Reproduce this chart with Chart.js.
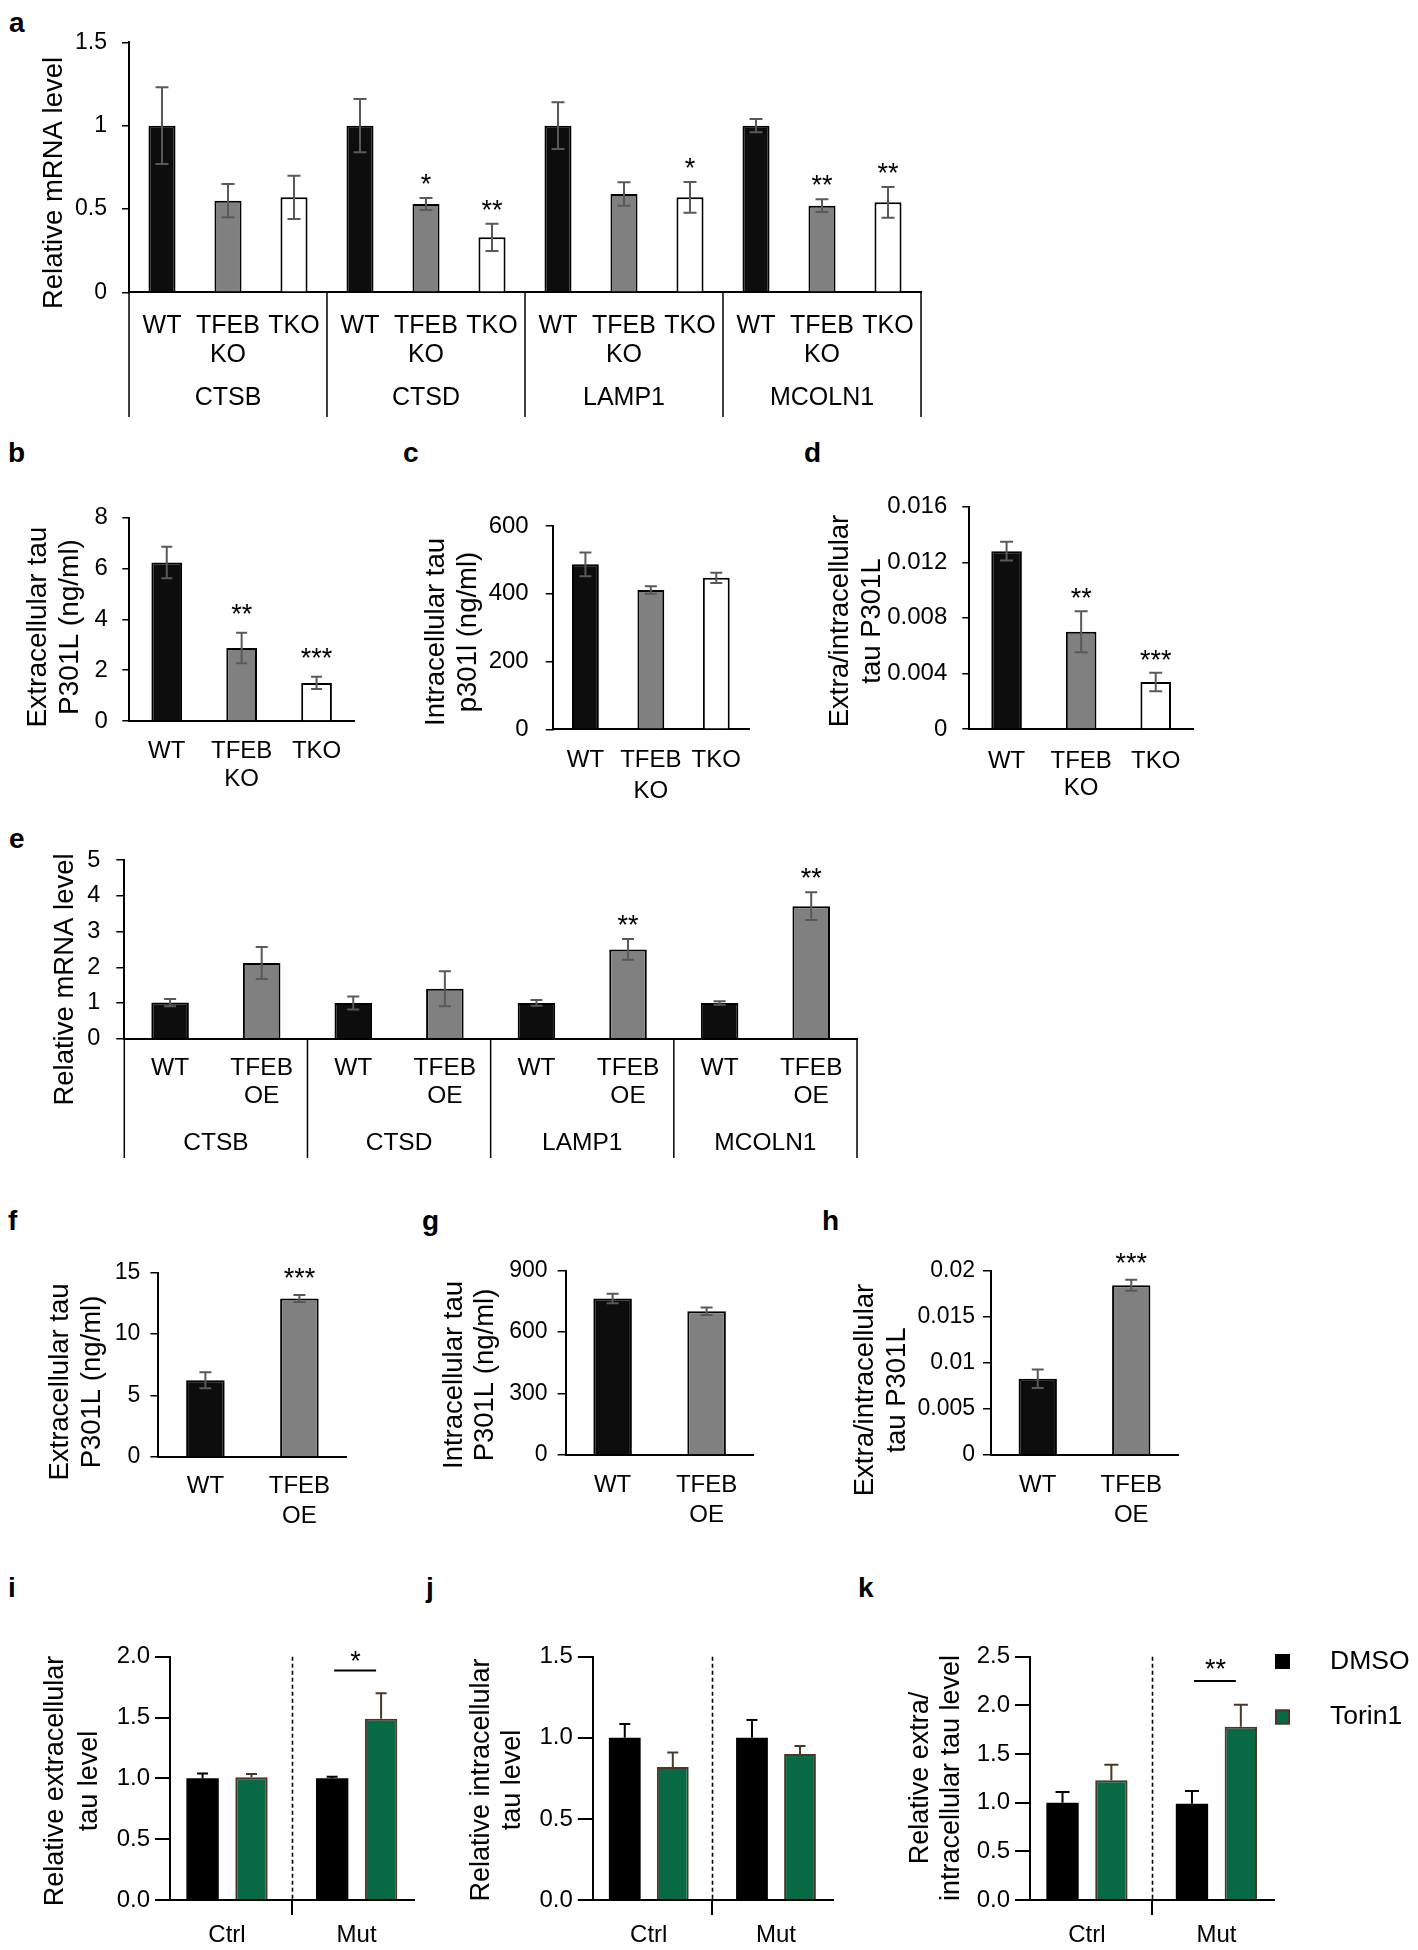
<!DOCTYPE html>
<html><head><meta charset="utf-8">
<script src="https://cdn.jsdelivr.net/npm/chart.js@4.4.1/dist/chart.umd.min.js"></script>
<style>
html,body{margin:0;padding:0;background:#fff;}
body{width:1418px;height:1950px;position:relative;overflow:hidden;}
.panel{position:absolute;}
.letter{position:absolute;font:bold 28px "Liberation Sans",Arial,sans-serif;line-height:1;color:#000;}
</style></head><body>
<div class="letter" style="left:9px;top:9px">a</div>
<div class="letter" style="left:8px;top:439px">b</div>
<div class="letter" style="left:403px;top:439px">c</div>
<div class="letter" style="left:804px;top:439px">d</div>
<div class="letter" style="left:9px;top:825px">e</div>
<div class="letter" style="left:8px;top:1207px">f</div>
<div class="letter" style="left:422px;top:1207px">g</div>
<div class="letter" style="left:822px;top:1207px">h</div>
<div class="letter" style="left:8px;top:1574px">i</div>
<div class="letter" style="left:426px;top:1574px">j</div>
<div class="letter" style="left:858px;top:1574px">k</div>
<script>
// ---------------- DATA ----------------
// Panel a
const aGenes = ['CTSB', 'CTSD', 'LAMP1', 'MCOLN1'];
const aConditions = ['WT', ['TFEB', 'KO'], 'TKO'];
const aValues = [1.00, 0.55, 0.57, 1.00, 0.53, 0.33, 1.00, 0.59, 0.57, 1.00, 0.52, 0.54];
const aErrors = [0.23, 0.10, 0.13, 0.16, 0.036, 0.082, 0.14, 0.071, 0.092, 0.04, 0.038, 0.092];
const aStars  = ['', '', '', '', '*', '**', '', '', '*', '', '**', '**'];
// Panels b, c, d
const bcdConditions = ['WT', ['TFEB', 'KO'], 'TKO'];
const bValues = [6.24, 2.87, 1.50];
const bErrors = [0.62, 0.60, 0.24];
const bStars  = ['', '**', '***'];
const cValues = [487, 411, 447];
const cErrors = [35, 11, 15];
const dValues = [0.0128, 0.0070, 0.00338];
const dErrors = [0.00068, 0.00147, 0.00067];
const dStars  = ['', '**', '***'];
// Panel e
const eGenes = ['CTSB', 'CTSD', 'LAMP1', 'MCOLN1'];
const eConditions = ['WT', ['TFEB', 'OE']];
const eValues = [1.01, 2.12, 1.00, 1.40, 1.00, 2.50, 1.00, 3.71];
const eErrors = [0.10, 0.45, 0.18, 0.49, 0.08, 0.29, 0.05, 0.39];
const eStars  = ['', '', '', '', '', '**', '', '**'];
// Panels f, g, h
const fghConditions = ['WT', ['TFEB', 'OE']];
const fValues = [6.23, 12.9];
const fErrors = [0.65, 0.28];
const fStars  = ['', '***'];
const gValues = [764, 702];
const gErrors = [23, 18];
const hValues = [0.00829, 0.01845];
const hErrors = [0.0010, 0.0006];
const hStars  = ['', '***'];
// Panels i, j, k
const ijkGroups = ['Ctrl', 'Mut'];
const ijkSeries = ['DMSO', 'Torin1'];
const iDMSO = [1.00, 1.00], iDMSOErr = [0.04, 0.014];
const iTorin = [1.01, 1.49], iTorinErr = [0.026, 0.21];
const jDMSO = [1.00, 1.00], jDMSOErr = [0.085, 0.11];
const jTorin = [0.82, 0.90], jTorinErr = [0.09, 0.05];
const kDMSO = [1.00, 0.99], kDMSOErr = [0.11, 0.13];
const kTorin = [1.23, 1.78], kTorinErr = [0.16, 0.225];
const iSig = '*', kSig = '**';

// ---------------- STYLE / HELPERS ----------------
const FONT = '"Liberation Sans", Arial, sans-serif';
Chart.defaults.font.family = FONT;
Chart.defaults.color = '#000';
const fmt = v => String(parseFloat(Number(v).toPrecision(8)));
const fmt1 = v => Number(v).toFixed(1);
const yOf = d => (d !== null && typeof d === 'object') ? d.y : d;
const triColors = ['#0d0d0d', '#808080', '#ffffff'];
const duoColors = ['#0d0d0d', '#808080'];
const GREEN = '#076a45', BROWN = '#4a3826';

const errPlugin = { id: 'errbars', afterDatasetsDraw(chart, args, o) {
  const ys = chart.scales.y, ctx = chart.ctx;
  chart.data.datasets.forEach((ds, di) => {
    if (!ds.errors) return;
    const meta = chart.getDatasetMeta(di);
    meta.data.forEach((el, i) => {
      const v = yOf(ds.data[i]), e = ds.errors[i];
      if (!e) return;
      const top = ys.getPixelForValue(v + e);
      const bot = o.oneSided ? ys.getPixelForValue(v) : ys.getPixelForValue(v - e);
      const c = (o.cap || 12) / 2;
      ctx.save();
      ctx.strokeStyle = ds.errorColor || o.color || '#595959';
      ctx.lineWidth = o.width || 2;
      ctx.beginPath();
      ctx.moveTo(el.x, top); ctx.lineTo(el.x, bot);
      ctx.moveTo(el.x - c, top); ctx.lineTo(el.x + c, top);
      if (!o.oneSided) { ctx.moveTo(el.x - c, bot); ctx.lineTo(el.x + c, bot); }
      ctx.stroke();
      ctx.restore();
    });
  });
}};

const starPlugin = { id: 'stars', afterDatasetsDraw(chart, args, o) {
  const ys = chart.scales.y, ctx = chart.ctx;
  chart.data.datasets.forEach((ds, di) => {
    if (!ds.stars) return;
    const meta = chart.getDatasetMeta(di);
    meta.data.forEach((el, i) => {
      const s = ds.stars[i]; if (!s) return;
      const v = yOf(ds.data[i]) + (ds.errors ? ds.errors[i] : 0);
      ctx.save();
      ctx.font = (o.size || 26) + 'px ' + FONT;
      ctx.textAlign = 'center'; ctx.textBaseline = 'alphabetic'; ctx.fillStyle = '#000';
      ctx.fillText(s, el.x, ys.getPixelForValue(v) - (o.gap || 5));
      ctx.restore();
    });
  });
}};

const titlePlugin = { id: 'ytitle', afterDraw(chart, args, o) {
  if (!o.lines) return;
  const ctx = chart.ctx;
  ctx.save();
  ctx.font = (o.size || 27) + 'px ' + FONT;
  ctx.fillStyle = '#000'; ctx.textAlign = 'center'; ctx.textBaseline = 'alphabetic';
  o.lines.forEach((t, i) => {
    ctx.save();
    ctx.translate(o.x[i] - o.ox, o.cy - o.oy);
    ctx.rotate(-Math.PI / 2);
    ctx.fillText(t, 0, 0);
    ctx.restore();
  });
  ctx.restore();
}};

const groupPlugin = { id: 'groups', afterDraw(chart, args, o) {
  if (!o.names) return;
  const xs = chart.scales.x, ctx = chart.ctx;
  const n = o.names.length, per = xs.getLabels().length / n;
  const bottom = o.lineBottom - o.oy;
  const edges = [];
  ctx.save();
  ctx.strokeStyle = '#000'; ctx.lineWidth = o.lineWidth || 1.5;
  for (let g = 0; g <= n; g++) {
    let x;
    if (g === 0) x = xs.left;
    else if (g === n) x = xs.right;
    else x = (xs.getPixelForValue(g * per - 1) + xs.getPixelForValue(g * per)) / 2;
    edges.push(x);
    ctx.beginPath(); ctx.moveTo(x, xs.top); ctx.lineTo(x, bottom); ctx.stroke();
  }
  ctx.font = (o.size || 24) + 'px ' + FONT;
  ctx.textAlign = 'center'; ctx.textBaseline = 'middle'; ctx.fillStyle = '#000';
  o.names.forEach((nm, g) => ctx.fillText(nm, (edges[g] + edges[g + 1]) / 2, o.labelY - o.oy));
  ctx.restore();
}};

const dashPlugin = { id: 'divider', afterDatasetsDraw(chart, args, o) {
  if (o.at === undefined) return;
  const xs = chart.scales.x, ys = chart.scales.y, ctx = chart.ctx;
  const x = Math.round(xs.getPixelForValue(o.at)) + 0.5;
  ctx.save();
  ctx.strokeStyle = '#000'; ctx.lineWidth = 1.6; ctx.setLineDash([4, 3]);
  ctx.beginPath(); ctx.moveTo(x, ys.top); ctx.lineTo(x, ys.bottom); ctx.stroke();
  ctx.restore();
}};

const sigPlugin = { id: 'sig', afterDraw(chart, args, o) {
  if (!o.text) return;
  const a = chart.getDatasetMeta(o.from[0]).data[o.from[1]];
  const b = chart.getDatasetMeta(o.to[0]).data[o.to[1]];
  const y = chart.scales.y.getPixelForValue(o.y);
  const ctx = chart.ctx;
  ctx.save();
  ctx.strokeStyle = '#000'; ctx.lineWidth = 2;
  ctx.beginPath(); ctx.moveTo(a.x + 2, y); ctx.lineTo(b.x - 5, y); ctx.stroke();
  ctx.font = (o.size || 26) + 'px ' + FONT;
  ctx.textAlign = 'center'; ctx.textBaseline = 'alphabetic'; ctx.fillStyle = '#000';
  ctx.fillText(o.text, (a.x + b.x) / 2 - 1, y - (o.gap || 2));
  ctx.restore();
}};

const legendPlugin = { id: 'sideLegend', afterDraw(chart, args, o) {
  if (!o.ys) return;
  const ctx = chart.ctx;
  ctx.save();
  ctx.font = (o.size || 26) + 'px ' + FONT;
  ctx.textAlign = 'left'; ctx.textBaseline = 'middle';
  chart.data.datasets.forEach((ds, i) => {
    const y = o.ys[i] - o.oy, x = o.x - o.ox;
    ctx.fillStyle = ds.backgroundColor;
    ctx.fillRect(x, y - 7.5, 15, 15);
    if (ds.borderWidth) {
      ctx.strokeStyle = ds.borderColor; ctx.lineWidth = 2;
      ctx.strokeRect(x + 1, y - 6.5, 13, 13);
    }
    ctx.fillStyle = '#000';
    ctx.fillText(ds.label, o.textX - o.ox, y);
  });
  ctx.restore();
}};

Chart.register(errPlugin, starPlugin, titlePlugin, groupPlugin, dashPlugin, sigPlugin, legendPlugin);

function yAxis(min, max, step, size, tl, pad, cb, lw) {
  return {
    type: 'linear', min: min, max: max,
    ticks: { stepSize: step, font: { size: size }, padding: pad, color: '#000', callback: cb || fmt },
    grid: { drawOnChartArea: false, drawTicks: true, tickLength: tl, color: '#000', lineWidth: lw || 1.5 },
    border: { display: true, color: '#000', width: 2 }
  };
}
function xCat(size, lh, pad) {
  return {
    type: 'category', offset: true,
    grid: { display: false, drawTicks: false },
    border: { display: true, color: '#000', width: 2 },
    ticks: { font: { size: size, lineHeight: lh }, padding: pad, color: '#000', maxRotation: 0, minRotation: 0, autoSkip: false }
  };
}
function xLin(size, pad) {
  return {
    type: 'linear', min: -0.44, max: 1.445, offset: false,
    afterBuildTicks: s => { s.ticks = [{ value: 0 }, { value: 1 }]; },
    ticks: { font: { size: size }, padding: pad, color: '#000', maxRotation: 0, autoSkip: false,
             callback: v => ijkGroups[v] },
    grid: { drawOnChartArea: false, drawTicks: true, tickLength: 15, color: '#000', lineWidth: 2 },
    border: { display: true, color: '#000', width: 2 }
  };
}

function panel(spec) {
  const box = spec.box, area = spec.area;
  const w = box.x1 - box.x0, h = box.y1 - box.y0;
  const div = document.createElement('div');
  div.className = 'panel';
  div.style.left = box.x0 + 'px'; div.style.top = box.y0 + 'px';
  div.style.width = w + 'px'; div.style.height = h + 'px';
  const cv = document.createElement('canvas');
  cv.width = w; cv.height = h; cv.style.width = w + 'px'; cv.style.height = h + 'px';
  div.appendChild(cv); document.body.appendChild(div);
  const yW = area.L - box.x0, xH = box.y1 - area.B;
  const plugins = { legend: { display: false }, tooltip: { enabled: false } };
  Object.keys(spec.plugins || {}).forEach(k => {
    plugins[k] = Object.assign({ ox: box.x0, oy: box.y0 }, spec.plugins[k]);
  });
  spec.x.afterFit = s => { s.height = xH; };
  spec.y.afterFit = s => { s.width = yW; };
  return new Chart(cv, {
    type: 'bar',
    data: spec.data,
    options: {
      responsive: false, animation: false, devicePixelRatio: 1, events: [],
      layout: { padding: { left: 0, top: area.T - box.y0, right: box.x1 - area.R, bottom: 0 } },
      datasets: { bar: spec.bar || {} },
      scales: { x: spec.x, y: spec.y },
      plugins: plugins
    }
  });
}

function triBars(values, errors, stars, n) {
  return {
    data: values, errors: errors, stars: stars,
    backgroundColor: values.map((v, i) => (n === 3 ? triColors : duoColors)[i % n]),
    borderColor: '#000', borderWidth: 2,
    barPercentage: 0.82, categoryPercentage: 0.5
  };
}

// ---------------- PANEL a ----------------
panel({
  box: { x0: 0, y0: 0, x1: 940, y1: 425 },
  area: { L: 129, T: 42.3, R: 921, B: 292.3 },
  data: { labels: aGenes.flatMap(() => aConditions), datasets: [triBars(aValues, aErrors, aStars, 3)] },
  x: xCat(25, 1.17, 19), y: yAxis(0, 1.5, 0.5, 23, 7, 15),
  plugins: {
    errbars: { cap: 13, color: '#595959' }, stars: { size: 27, gap: 5 },
    ytitle: { lines: ['Relative mRNA level'], x: [62], cy: 183, size: 27.5 },
    groups: { names: aGenes, lineBottom: 417, labelY: 398, size: 25 }
  }
});

// ---------------- PANEL b ----------------
panel({
  box: { x0: 0, y0: 470, x1: 400, y1: 810 },
  area: { L: 129.3, T: 517.7, R: 354, B: 721 },
  data: { labels: bcdConditions, datasets: [triBars(bValues, bErrors, bStars, 3)] },
  x: xCat(24, 1.17, 16.7), y: yAxis(0, 8, 2, 24, 7, 14.5),
  plugins: {
    errbars: { cap: 11 }, stars: { size: 27, gap: 10 },
    ytitle: { lines: ['Extracellular tau', 'P301L (ng/ml)'], x: [46.3, 77.5], cy: 627, size: 28 }
  }
});

// ---------------- PANEL c ----------------
panel({
  box: { x0: 400, y0: 470, x1: 790, y1: 810 },
  area: { L: 552.7, T: 526, R: 749, B: 729.3 },
  data: { labels: bcdConditions, datasets: [triBars(cValues, cErrors, null, 3)] },
  x: xCat(24, 1.3, 15.4), y: yAxis(0, 600, 200, 24, 7, 17),
  plugins: {
    errbars: { cap: 12 },
    ytitle: { lines: ['Intracellular tau', 'p301l (ng/ml)'], x: [443.5, 476], cy: 632, size: 27.5 }
  }
});

// ---------------- PANEL d ----------------
panel({
  box: { x0: 800, y0: 470, x1: 1230, y1: 810 },
  area: { L: 969.3, T: 506.7, R: 1193, B: 729 },
  data: { labels: bcdConditions, datasets: [triBars(dValues, dErrors, dStars, 3)] },
  x: xCat(24, 1.11, 19.4), y: yAxis(0, 0.016, 0.004, 24, 7, 15),
  plugins: {
    errbars: { cap: 13 }, stars: { size: 27, gap: 4 },
    ytitle: { lines: ['Extra/intracellular', 'tau P301L'], x: [848, 880], cy: 621, size: 27.5 }
  }
});

// ---------------- PANEL e ----------------
panel({
  box: { x0: 0, y0: 830, x1: 880, y1: 1170 },
  area: { L: 124.3, T: 842.7, R: 857, B: 1038.7 },
  data: { labels: eGenes.flatMap(() => eConditions), datasets: [triBars(eValues, eErrors, eStars, 2)] },
  x: xCat(24.5, 1.16, 15.4), y: yAxis(0, 5, 1, 23.5, 8, 16),
  plugins: {
    errbars: { cap: 12 }, stars: { size: 27, gap: 5 },
    ytitle: { lines: ['Relative mRNA level'], x: [73.3], cy: 979.5, size: 27.5 },
    groups: { names: eGenes, lineBottom: 1158, labelY: 1143.3, size: 24.5 }
  }
});

// ---------------- PANEL f ----------------
panel({
  box: { x0: 0, y0: 1240, x1: 400, y1: 1540 },
  area: { L: 158.4, T: 1272.7, R: 346.4, B: 1456.7 },
  data: { labels: fghConditions, datasets: [triBars(fValues, fErrors, fStars, 2)] },
  x: xCat(24, 1.25, 15), y: yAxis(0, 15, 5, 23, 8, 10),
  plugins: {
    errbars: { cap: 12 }, stars: { size: 27, gap: 8 },
    ytitle: { lines: ['Extracellular tau', 'P301L (ng/ml)'], x: [68, 100], cy: 1382, size: 27.5 }
  }
});

// ---------------- PANEL g ----------------
panel({
  box: { x0: 400, y0: 1240, x1: 800, y1: 1540 },
  area: { L: 565.6, T: 1270.7, R: 753.6, B: 1455 },
  data: { labels: fghConditions, datasets: [triBars(gValues, gErrors, null, 2)] },
  x: xCat(24, 1.25, 15), y: yAxis(0, 900, 300, 23, 8, 10),
  plugins: {
    errbars: { cap: 12 },
    ytitle: { lines: ['Intracellular tau', 'P301L (ng/ml)'], x: [461.5, 493], cy: 1375, size: 27.5 }
  }
});

// ---------------- PANEL h ----------------
panel({
  box: { x0: 800, y0: 1240, x1: 1230, y1: 1540 },
  area: { L: 991, T: 1271, R: 1178, B: 1455 },
  data: { labels: fghConditions, datasets: [triBars(hValues, hErrors, hStars, 2)] },
  x: xCat(24, 1.25, 15), y: yAxis(0, 0.02, 0.005, 23, 8, 8),
  plugins: {
    errbars: { cap: 12 }, stars: { size: 27, gap: 8 },
    ytitle: { lines: ['Extra/intracellular', 'tau P301L'], x: [873, 905], cy: 1390, size: 27.5 }
  }
});

// ---------------- PANELS i, j, k ----------------
function ijkData(dm, dmErr, tor, torErr) {
  return { datasets: [
    { label: ijkSeries[0], data: dm.map((v, i) => ({ x: i, y: v })), errors: dmErr, errorColor: '#000',
      backgroundColor: '#000', borderColor: '#000', borderWidth: 0 },
    { label: ijkSeries[1], data: tor.map((v, i) => ({ x: i, y: v })), errors: torErr, errorColor: BROWN,
      backgroundColor: GREEN, borderColor: BROWN, borderWidth: 2 }
  ]};
}
const ijkBar = { barPercentage: 0.662, categoryPercentage: 0.755 };

panel({
  box: { x0: 0, y0: 1610, x1: 440, y1: 1950 },
  area: { L: 170, T: 1656.7, R: 414.3, B: 1900 },
  data: ijkData(iDMSO, iDMSOErr, iTorin, iTorinErr), bar: ijkBar,
  x: xLin(24, 6), y: yAxis(0, 2, 0.5, 24, 15, 5, fmt1, 2),
  plugins: {
    errbars: { cap: 11, oneSided: true, width: 2 },
    divider: { at: 0.5 },
    sig: { from: [0, 1], to: [1, 1], y: 1.886, text: iSig, size: 27, gap: 1 },
    ytitle: { lines: ['Relative extracellular', 'tau level'], x: [63.3, 97], cy: 1781, size: 27 }
  }
});

panel({
  box: { x0: 440, y0: 1610, x1: 880, y1: 1950 },
  area: { L: 592.8, T: 1656.7, R: 832.6, B: 1900 },
  data: ijkData(jDMSO, jDMSOErr, jTorin, jTorinErr), bar: ijkBar,
  x: xLin(24, 6), y: yAxis(0, 1.5, 0.5, 24, 15, 5, fmt1, 2),
  plugins: {
    errbars: { cap: 11, oneSided: true, width: 2 },
    divider: { at: 0.5 },
    ytitle: { lines: ['Relative intracellular', 'tau level'], x: [488.7, 520], cy: 1780, size: 27 }
  }
});

panel({
  box: { x0: 880, y0: 1610, x1: 1418, y1: 1950 },
  area: { L: 1030, T: 1656.7, R: 1274, B: 1900 },
  data: ijkData(kDMSO, kDMSOErr, kTorin, kTorinErr), bar: ijkBar,
  x: xLin(24, 6), y: yAxis(0, 2.5, 0.5, 24, 15, 5, fmt1, 2),
  plugins: {
    errbars: { cap: 14, oneSided: true, width: 2 },
    divider: { at: 0.5 },
    sig: { from: [0, 1], to: [1, 1], y: 2.25, text: kSig, size: 27, gap: 3 },
    ytitle: { lines: ['Relative extra/', 'intracellular tau level'], x: [927.6, 959], cy: 1778, size: 27 },
    sideLegend: { x: 1275, textX: 1330, ys: [1661.5, 1717], size: 26.5 }
  }
});
</script>
</body></html>
